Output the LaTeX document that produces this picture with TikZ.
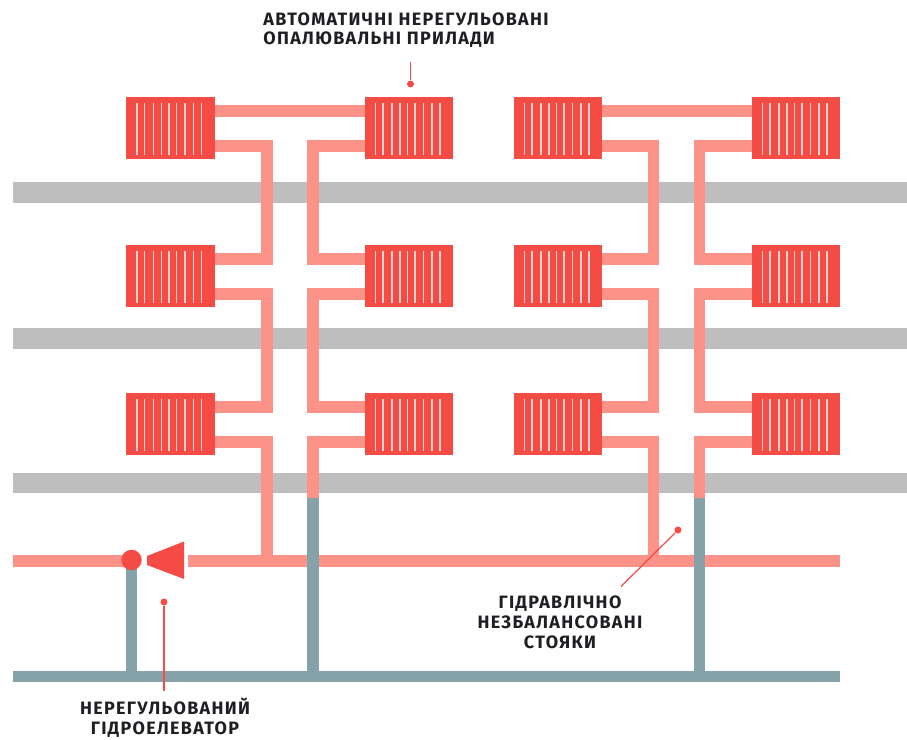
\documentclass[tikz,border=0pt]{standalone}
\usepackage{fontspec}
\setsansfont{Fira Sans}[LetterSpace=7.5]
\usepackage{tikz}
\usetikzlibrary{calc,positioning,backgrounds}
\definecolor{radRed}    {RGB}{244,  76,  69}
\definecolor{pipePink}  {RGB}{253, 147, 136}
\definecolor{pipeBlue}  {RGB}{132, 162, 168}
\definecolor{floorGray} {RGB}{190, 190, 190}
\definecolor{labelInk}  {RGB}{ 30,  30,  35}
\tikzset{
  radiator/.style={fill=radRed,minimum width=1.78cm,minimum height=1.25cm,inner sep=0pt},
  fin/.style={white!75!radRed,line width=0.85pt},
  hotpipe/.style={pipePink,line width=0.23cm},
  backpipe/.style={pipeBlue,line width=0.23cm},
  floorband/.style={floorGray,line width=0.42cm},
  mixerdot/.style={circle,fill=radRed,minimum size=0.41cm,inner sep=0pt},
  leader/.style={radRed,line width=0.7pt},
  leaderdot/.style={circle,fill=radRed,minimum size=0.14cm,inner sep=0pt},
  caption/.style={font=\sffamily\bfseries\fontsize{10.2}{11.3}\selectfont,labelInk,inner sep=0pt},
}

\begin{document}
\begin{tikzpicture}[x=0.02cm,y=-0.02cm]
    \useasboundingbox (0,0) rectangle (907,740);

    % ── OPALUVALNI PRYLADY ────────────────────────────────
    \foreach \c/\x/\s in {1/170.5/1,2/409/-1,3/558/1,4/796/-1}{
      \foreach \r/\y in {1/128,2/276,3/424}{
        \node[radiator] (rad\c\r) at (\x,\y) {};
        \coordinate (up\c\r) at (\x+\s*30,\y-17);
        \coordinate (dn\c\r) at (\x+\s*30,\y+18);
        % Rebra
        \foreach \f in {-33.5,-25.8,-17.2,-9.2,-1.5,6.2,14.5,22.8,31.2}{
          \draw[fin] (\x+\f,\y-25) -- (\x+\f,\y+27);
        }
      }
    }

    % ── GIDROELEVATOR ─────────────────────────────────────
    \node[mixerdot] (mixer) at (131.5,560) {};
    \fill[radRed] (147,556) -- (184,541.5) -- (184,579) -- (147,565) -- cycle;

    % ── STOIAKY ───────────────────────────────────────────
    \coordinate (riser1) at (267,0);
    \coordinate (riser2) at (313,0);
    \coordinate (riser3) at (653.5,0);
    \coordinate (riser4) at (699.5,0);
    \coordinate (mainL) at (13,561);
    \coordinate (mainM) at (188,561);
    \coordinate (mainR) at (840,561);
    \coordinate (backL) at (13,676.5);
    \coordinate (backR) at (840,676.5);
    \coordinate (splitA) at (313,498);
    \coordinate (splitB) at (699.5,498);

    \begin{scope}[on background layer]
      % Perekryttia
      \foreach \b/\y in {1/192.5,2/338.5,3/483}{
        \coordinate (bandL\b) at (13,\y);
        \coordinate (bandR\b) at (907,\y);
        \draw[floorband] (bandL\b) -- (bandR\b);
      }
      \draw[hotpipe] (mainL) -- (mixer.center |- mainL);
      \draw[hotpipe] (mainM) -- (mainR);
      \draw[hotpipe] (up11) -- (up21);
      \draw[hotpipe] (up31) -- (up41);
      \foreach \c in {1,2,3,4}{
        \draw[hotpipe] (dn\c1) -- (dn\c1 -| riser\c) -- (up\c2 -| riser\c) -- (up\c2);
        \draw[hotpipe] (dn\c2) -- (dn\c2 -| riser\c) -- (up\c3 -| riser\c) -- (up\c3);
      }
      \draw[hotpipe] (dn13) -- (dn13 -| riser1) -- (mainM -| riser1);
      \draw[hotpipe] (dn33) -- (dn33 -| riser3) -- (mainM -| riser3);
      \draw[hotpipe] (dn23) -- (dn23 -| riser2) -- (splitA);
      \draw[hotpipe] (dn43) -- (dn43 -| riser4) -- (splitB);
      % Zvorotna mahistral
      \draw[backpipe] (backL) -- (backR);
      \draw[backpipe] (splitA) -- (backL -| riser2);
      \draw[backpipe] (splitB) -- (backL -| riser4);
      \draw[backpipe] (mixer.center) -- (mixer.center |- backL);
    \end{scope}

    % ── PIDPYSY ───────────────────────────────────────────
    \node[caption,align=left,anchor=north west] (capTop) at (263,12)
      {АВТОМАТИЧНІ НЕРЕГУЛЬОВАНІ\\ОПАЛЮВАЛЬНІ ПРИЛАДИ};
    \node[caption,align=center] (capRiser) at (560,622)
      {ГІДРАВЛІЧНО\\НЕЗБАЛАНСОВАНІ\\СТОЯКИ};
    \node[caption,align=center] (capJet) at (165,718)
      {НЕРЕГУЛЬОВАНИЙ\\ГІДРОЕЛЕВАТОР};

    % Vynosky
    \node[leaderdot] (dotTop) at (410.5,84) {};
    \node[leaderdot] (dotJet) at (164,602) {};
    \node[leaderdot] (dotRiser) at (678,530) {};
    \coordinate (endTop) at (410.5,62);
    \coordinate (endJet) at (164,691);
    \coordinate (endRiser) at (621,586.5);
    \draw[leader] (endTop) -- (dotTop);
    \draw[leader] (endJet) -- (dotJet);
    \draw[leader] (endRiser) -- (dotRiser);

\end{tikzpicture}
\end{document}
